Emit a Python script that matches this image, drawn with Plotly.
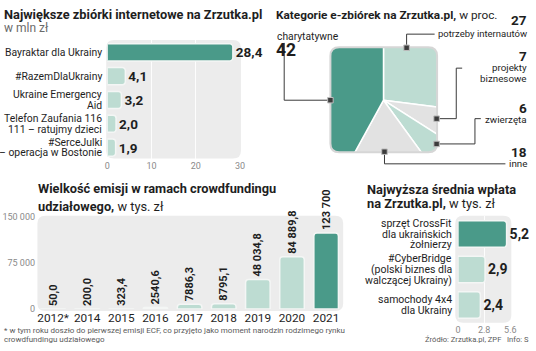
import plotly.graph_objects as go

W, H = 536, 351

# ---------------- data ----------------
top_labels = ["Bayraktar dla Ukrainy", "#RazemDlaUkrainy", "Ukraine Emergency<br>Aid",
              "Telefon Zaufania 116<br>111 – ratujmy dzieci", "#SerceJulki<br>– operacja w Bostonie"]
top_values = [28.4, 4.1, 3.2, 2.0, 1.9]
top_text = ["28,4", "4,1", "3,2", "2,0", "1,9"]
top_ticks = [0, 10, 20, 30]

pie_labels = ["potrzeby internautów", "projekty<br>biznesowe", "zwierzęta", "inne", "charytatywne"]
pie_values = [27, 7, 6, 18, 42]

years = ["2012*", "2014", "2015", "2016", "2017", "2018", "2019", "2020", "2021"]
emission = [50.0, 200.0, 323.4, 2540.6, 7886.3, 8795.1, 48034.8, 84889.8, 123700]
emission_text = ["50,0", "200,0", "323,4", "2540,6", "7886,3", "8795,1", "48 034,8", "84 889,8", "123 700"]
emission_ticks = [0, 75000, 150000]
emission_ticktext = ["0", "75 000", "150 000"]

avg_labels = ["sprzęt CrossFit<br>dla ukraińskich<br>żołnierzy",
              "#CyberBridge<br>(polski biznes dla<br>walczącej Ukrainy)",
              "samochody 4x4<br>dla Ukrainy"]
avg_values = [5.2, 2.9, 2.4]
avg_text = ["5,2", "2,9", "2,4"]
avg_ticks = [0, 2.8, 5.6]
avg_ticktext = ["0", "2.8", "5.6"]

# ---------------- styles ----------------
FONT = "Roboto, Liberation Sans, sans-serif"
DARK = "#4a9a89"
LIGHT = "#bddcd2"
GREY = "#e2e2e2"
BG = "#ececec"
TXT = "#1e1e1e"
SUB = "#6a6a6a"
TITLE = 12.8


def X(p):
    return p / W


def Y(p):
    return 1 - p / H


def rrect(x0, y0, x1, y1, r, ccw=False):
    pts = []
    if not ccw:
        seq = [("M", x0 + r, y0), ("L", x1 - r, y0), ("Q", x1, y0, x1, y0 + r), ("L", x1, y1 - r),
               ("Q", x1, y1, x1 - r, y1), ("L", x0 + r, y1), ("Q", x0, y1, x0, y1 - r), ("L", x0, y0 + r),
               ("Q", x0, y0, x0 + r, y0)]
    else:
        seq = [("M", x0 + r, y0), ("Q", x0, y0, x0, y0 + r), ("L", x0, y1 - r), ("Q", x0, y1, x0 + r, y1),
               ("L", x1 - r, y1), ("Q", x1, y1, x1, y1 - r), ("L", x1, y0 + r), ("Q", x1, y0, x1 - r, y0),
               ("L", x0 + r, y0)]
    for s in seq:
        if s[0] == "Q":
            pts.append(f"Q{X(s[1]):.5f},{Y(s[2]):.5f} {X(s[3]):.5f},{Y(s[4]):.5f}")
        else:
            pts.append(f"{s[0]}{X(s[1]):.5f},{Y(s[2]):.5f}")
    return " ".join(pts) + " Z"


def polyline(pts):
    return "M" + " L".join(f"{X(a):.5f},{Y(b):.5f}" for a, b in pts)


fig = go.Figure()

# Panel 1: horizontal bars
fig.add_trace(go.Bar(
    x=top_values, y=top_labels, orientation="h", xaxis="x", yaxis="y",
    width=0.72,
    marker=dict(color=[DARK] + [LIGHT] * (len(top_values) - 1), cornerradius=3,
                line=dict(color="#f4f6f5", width=1.5)),
    text=top_text, textposition="outside", cliponaxis=False, constraintext="none",
    outsidetextfont=dict(family=FONT, size=13.5, color=TXT, weight="bold"),
    hoverinfo="skip", showlegend=False))

# Panel 3: vertical bars
fig.add_trace(go.Bar(
    x=years, y=emission, xaxis="x2", yaxis="y2", width=0.72,
    marker=dict(color=[LIGHT] * (len(years) - 1) + [DARK], cornerradius=3,
                line=dict(color="#f4f6f5", width=1.5)),
    text=emission_text, textposition="outside", textangle=-90, cliponaxis=False,
    constraintext="none",
    outsidetextfont=dict(family=FONT, size=11, color=TXT, weight="bold"),
    hoverinfo="skip", showlegend=False))

# Panel 4: horizontal bars
fig.add_trace(go.Bar(
    x=avg_values, y=avg_labels, orientation="h", xaxis="x3", yaxis="y3", width=0.75,
    marker=dict(color=[DARK] + [LIGHT] * (len(avg_values) - 1), cornerradius=3,
                line=dict(color="#f4f6f5", width=1.5)),
    text=avg_text, textposition="outside", cliponaxis=False, constraintext="none",
    outsidetextfont=dict(family=FONT, size=14, color=TXT, weight="bold"),
    hoverinfo="skip", showlegend=False))

# Pie (clipped to a rounded square by a mask)
cx, cy, R = 387, 98, 80
fig.add_trace(go.Pie(
    values=pie_values, labels=pie_labels, sort=False, direction="clockwise", rotation=0,
    marker=dict(colors=[LIGHT, GREY, LIGHT, GREY, DARK], line=dict(color="white", width=1.5)),
    textinfo="none", hoverinfo="skip", showlegend=False,
    domain=dict(x=[X(cx - R), X(cx + R)], y=[Y(cy + R), Y(cy - R)])))

axis_common = dict(showline=False, zeroline=False, ticks="", fixedrange=True)
fig.update_layout(
    width=W, height=H, margin=dict(l=0, r=0, t=0, b=0),
    paper_bgcolor="white", plot_bgcolor="rgba(0,0,0,0)",
    font=dict(family=FONT, color=TXT),
    xaxis=dict(domain=[X(106), X(241)], range=[0, 30], tickvals=top_ticks, showgrid=True,
               gridcolor="rgba(255,255,255,0.9)", gridwidth=1,
               tickfont=dict(size=9, color="#8a8a8a"), **axis_common),
    yaxis=dict(domain=[Y(159), Y(36.5)], type="category", range=[len(top_labels) - 0.5, -0.5],
               showticklabels=False, showgrid=False, **axis_common),
    xaxis2=dict(domain=[X(33.6), X(346)], type="category", range=[-0.5, len(years) - 0.5],
                showgrid=False, tickfont=dict(size=11.8, color=TXT), anchor="y2", **axis_common),
    yaxis2=dict(domain=[Y(313), Y(218)], range=[0, 150000], tickvals=emission_ticks,
                ticktext=emission_ticktext, showgrid=False, anchor="x2",
                tickfont=dict(size=9, color="#8a8a8a"), **axis_common),
    xaxis3=dict(domain=[X(462.7), X(516)], range=[0, 5.6], tickvals=avg_ticks, ticktext=avg_ticktext,
                showgrid=True, gridcolor="rgba(255,255,255,0.9)", anchor="y3",
                tickfont=dict(size=9, color="#8a8a8a"), **axis_common),
    yaxis3=dict(domain=[Y(327), Y(217.5)], type="category", range=[len(avg_labels) - 0.5, -0.5],
                showticklabels=False, showgrid=False, anchor="x3", **axis_common),
)

shapes = []
# rounded backgrounds
for (x0, y0, x1, y1) in [(105, 36, 242, 158), (35, 217, 346, 315), (460, 217, 517, 327)]:
    shapes.append(dict(type="path", path=rrect(x0, y0, x1, y1, 8), xref="paper", yref="paper",
                       fillcolor=BG, line=dict(width=0), layer="below"))
# mask around the pie
sq = (333, 43.5, 441.5, 151.5)
outer = (cx - R - 8, cy - R - 6, cx + R + 8, cy + R + 6)
mask_path = (f"M{X(outer[0]):.5f},{Y(outer[1]):.5f} L{X(outer[2]):.5f},{Y(outer[1]):.5f} "
             f"L{X(outer[2]):.5f},{Y(outer[3]):.5f} L{X(outer[0]):.5f},{Y(outer[3]):.5f} Z "
             + rrect(*sq, 9, ccw=True))
shapes.append(dict(type="path", path=mask_path, xref="paper", yref="paper",
                   fillcolor="white", line=dict(width=0), layer="above"))
shapes.append(dict(type="path", path=rrect(*sq, 9), xref="paper", yref="paper",
                   fillcolor="rgba(0,0,0,0)", line=dict(color="#d6d6d6", width=2), layer="above"))
# leader lines
leaders = [
    [(333, 98), (286, 98), (286, 39)],
    [(410.5, 44), (410.5, 30), (439, 30)],
    [(441, 117), (461, 117), (461, 65), (467, 65)],
    [(441, 143), (480, 143), (480, 117), (486, 117)],
    [(388, 151), (388, 163.5), (511, 163.5)],
]
for pts in leaders:
    shapes.append(dict(type="path", path=polyline(pts), xref="paper", yref="paper",
                       line=dict(color="#3a3a3a", width=1), layer="above"))
for pts in leaders:
    mx, my = pts[0]
    shapes.append(dict(type="rect", xref="paper", yref="paper", x0=X(mx - 2.8), x1=X(mx + 2.8),
                       y0=Y(my + 2.8), y1=Y(my - 2.8), fillcolor="#3c3c3c",
                       line=dict(color="#bdbdbd", width=1), layer="above"))
fig.update_layout(shapes=shapes)

ann = []


def text(x, y, s, size=12, color=TXT, anchor="left", weight=None):
    f = dict(family=FONT, size=size, color=color)
    if weight:
        f["weight"] = weight
    ann.append(dict(x=X(x), y=Y(y), xref="paper", yref="paper", text=s, showarrow=False,
                    xanchor=anchor, yanchor="middle", font=f))


# titles
text(-1, 10, "<b>Największe zbiórki internetowe na Zrzutka.pl</b>", size=TITLE)
text(-1, 23.5, "w mln zł", size=12, color=SUB)
text(276, 10, "<b>Kategorie e-zbiórek na Zrzutka.pl,</b> w proc.", size=11.8)
text(34, 189, "<b>Wielkość emisji w ramach crowdfundingu</b>", size=TITLE)
text(34, 207, "<b>udziałowego,</b> w tys. zł", size=TITLE)
text(368, 190, "<b>Najwyższa średnia wpłata</b>", size=TITLE)
text(368, 204, "<b>na Zrzutka.pl,</b> w tys. zł", size=TITLE)


# category labels (one annotation per line, placed on the category axis)
def cat_labels(labels, yref, xpx, step, size):
    for lab in labels:
        lines = lab.split("<br>")
        n = len(lines)
        for i, ln in enumerate(lines):
            ann.append(dict(x=X(xpx), y=lab, xref="paper", yref=yref, text=ln, showarrow=False,
                            xanchor="right", yanchor="middle", yshift=((n - 1) / 2 - i) * step,
                            font=dict(family=FONT, size=size, color=TXT)))


cat_labels(top_labels, "y", 103, 10.8, 10.4)
cat_labels(avg_labels, "y3", 459, 10.8, 10.5)

# pie labels
pv = dict(zip(pie_labels, pie_values))
text(277, 32, "charytatywne", size=10.3)
text(276, 46, f"<b>{pv['charytatywne']}</b>", size=17.5)
text(535, 15, f"<b>{pv['potrzeby internautów']}</b>", size=13.5, anchor="right")
text(535, 29.5, "potrzeby internautów", size=9.5, anchor="right")
text(535, 53, f"<b>{pv['projekty<br>biznesowe']}</b>", size=13.5, anchor="right")
text(535, 64, "projekty", size=9.8, anchor="right")
text(535, 76, "biznesowe", size=9.8, anchor="right")
text(535, 106, f"<b>{pv['zwierzęta']}</b>", size=13.5, anchor="right")
text(535, 117.5, "zwierzęta", size=9.8, anchor="right")
text(535, 151, f"<b>{pv['inne']}</b>", size=13.5, anchor="right")
text(535, 163.5, "inne", size=9.8, anchor="right")

# footnote and source
text(-1, 335.5, "* w tym roku doszło do pierwszej emisji ECF, co przyjęto jako moment narodzin rodzimego rynku",
     size=8, color="#5a5a5a")
text(-1, 344, "crowdfundingu udziałowego", size=8, color="#5a5a5a")
text(537, 344, "Źródło: Zrzutka.pl, ZPF   Info: S", size=7.6, color="#5a5a5a", anchor="right")

fig.update_layout(annotations=ann)
fig.write_html("out.html")
